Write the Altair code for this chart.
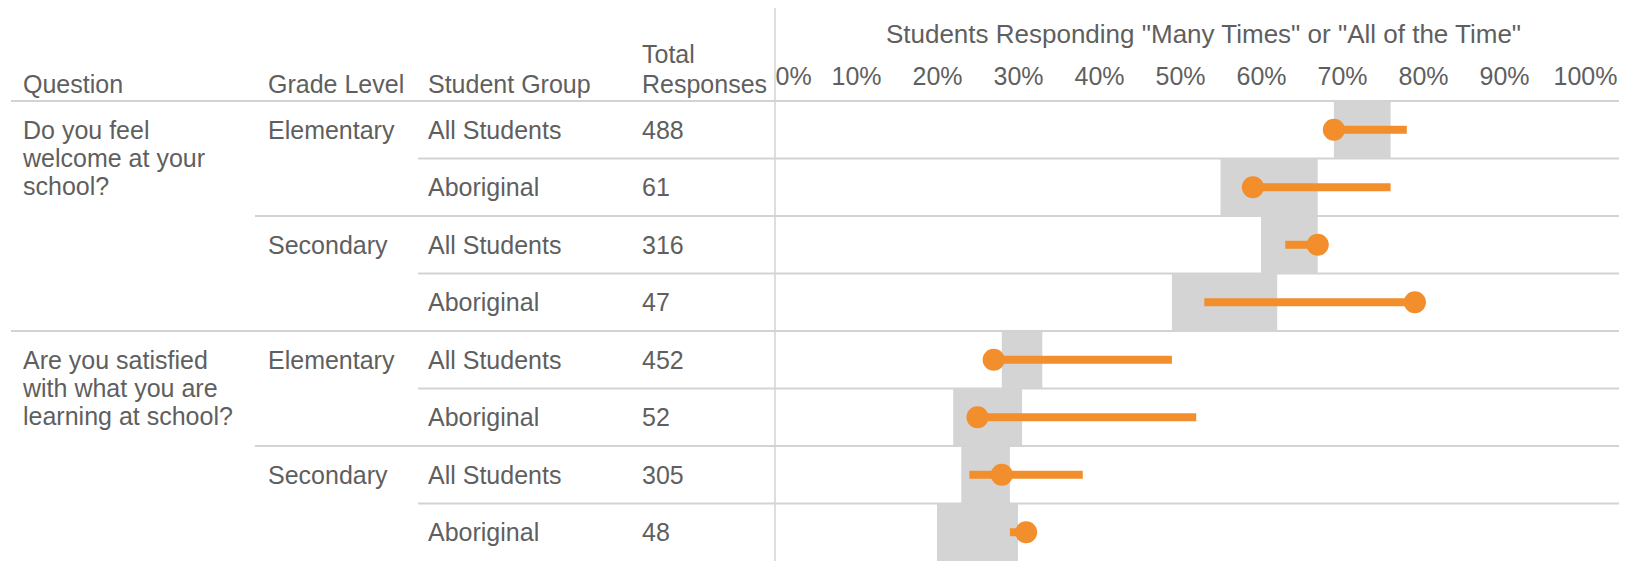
import altair as alt
import pandas as pd

# ---------------- data ----------------
questions = [
    "Do you feel\nwelcome at your\nschool?",
    "Are you satisfied\nwith what you are\nlearning at school?",
]
grade_levels = ["Elementary", "Secondary"]
student_groups = ["All Students", "Aboriginal"]
total_responses = [488, 61, 316, 47, 452, 52, 305, 48]
dot_value = [69, 59, 67, 79, 27, 25, 28, 31]
line_low = [69, 59, 63, 53, 27, 25, 24, 29]
line_high = [78, 76, 67, 79, 49, 52, 38, 31]
band_low = [69, 55, 60, 49, 28, 22, 23, 20]
band_high = [76, 67, 67, 62, 33, 30.5, 29, 30]

headers = ["Question", "Grade Level", "Student Group", "Total\nResponses"]
axis_title = 'Students Responding "Many Times" or "All of the Time"'
tick_values = [0, 10, 20, 30, 40, 50, 60, 70, 80, 90, 100]

# ---------------- tables ----------------
records = []
r = 0
for qi, q in enumerate(questions):
    for gi, g in enumerate(grade_levels):
        for si, s in enumerate(student_groups):
            records.append(dict(
                r=r, r1=r + 1, yc=r + 0.5,
                question=q, grade=g, group=s,
                total=str(total_responses[r]),
                dot=dot_value[r], lo=line_low[r], hi=line_high[r],
                blo=band_low[r], bhi=band_high[r],
                first_q=(gi == 0 and si == 0), first_g=(si == 0),
            ))
            r += 1
rows = pd.DataFrame(records)
n_rows = len(rows)

q_rows = rows[rows.first_q]
g_rows = rows[rows.first_g]
q_bounds = pd.DataFrame({"b": [0] + [int(v) for v in q_rows.r if v > 0]})
g_bounds = pd.DataFrame({"b": [int(v) for v in g_rows.r if v > 0 and v not in set(q_rows.r)]})
s_bounds = pd.DataFrame({"b": [int(v) for v in rows.r if v > 0 and v not in set(g_rows.r)]})

# ---------------- styling ----------------
FONT = "Liberation Sans"
TXT = "#5f5f5f"
ORANGE = "#F28E2B"
GRID = "#d3d3d3"
W, H = 1611, 460
X0 = 767
XMAX = (W - X0) / 8.1

xscale = alt.Scale(domain=[0, XMAX], range=[X0, W], nice=False, zero=False)
yscale = alt.Scale(domain=[0, n_rows], range=[0, H], nice=False, zero=False)
xaxis = alt.Axis(
    orient="top", values=tick_values, labelExpr="datum.value + '%'",
    domain=False, ticks=False, tickSize=0, grid=False, labelFlush=True,
    labelPadding=17, labelBaseline="alphabetic", labelFontSize=25,
    labelColor=TXT, labelFont=FONT, labelOverlap=False,
    title=axis_title, titleFontSize=26, titleFontWeight="normal",
    titleColor=TXT, titleFont=FONT, titleX=1195, titleY=-67,
    titleBaseline="middle", titleAlign="center",
)


def X(field):
    return alt.X(field, type="quantitative", scale=xscale, axis=xaxis)


def Y(field):
    return alt.Y(field, type="quantitative", scale=yscale, axis=None)


base = alt.Chart(rows)

bands = base.mark_rect(color="#d4d4d4").encode(
    x=X("blo"), x2="bhi", y=Y("r"), y2="r1")

vline = alt.Chart(pd.DataFrame({"v": [0]})).mark_rule(color=GRID, strokeWidth=1.5).encode(
    x=alt.X("v", type="quantitative", scale=xscale, axis=xaxis),
    y=alt.value(-93), y2=alt.value(H))

def sep(df, x_start):
    return alt.Chart(df).mark_rule(color=GRID, strokeWidth=2).encode(
        y=Y("b"), x=alt.value(x_start), x2=alt.value(W))

seps = [sep(q_bounds, 3), sep(g_bounds, 247), sep(s_bounds, 410)]

lines = base.mark_rule(color=ORANGE, strokeWidth=8).encode(
    x=X("lo"), x2="hi", y=Y("yc"))

dots = base.mark_circle(color=ORANGE, opacity=1, size=490).encode(
    x=X("dot"), y=Y("yc"))

def txt(df, field, x_px):
    return alt.Chart(df).mark_text(
        align="left", baseline="alphabetic", dy=9, font=FONT, fontSize=25,
        color=TXT, lineBreak="\n", lineHeight=28,
    ).encode(x=alt.value(x_px), y=Y("yc"), text=alt.Text(field, type="nominal"))

texts = [
    txt(q_rows, "question", 15),
    txt(g_rows, "grade", 260),
    txt(rows, "group", 420),
    txt(rows, "total", 634),
]

header_x = [15, 260, 420, 634]
header_y = [-8, -8, -8, -38]
header_layers = []
for h, hx, hy in zip(headers, header_x, header_y):
    header_layers.append(
        alt.Chart(pd.DataFrame({"t": [h]})).mark_text(
            align="left", baseline="alphabetic", font=FONT, fontSize=25,
            color=TXT, lineBreak="\n", lineHeight=30,
        ).encode(x=alt.value(hx), y=alt.value(hy), text="t:N")
    )

chart = alt.layer(
    bands, vline, *seps, lines, dots, *texts, *header_layers
).properties(
    width=W, height=H,
    autosize=alt.AutoSizeParams(type="none"),
    padding={"left": 0, "top": 93, "right": 0, "bottom": 0},
).configure_view(stroke=None)

chart.save("out.html", embed_options={"renderer": "svg", "actions": False})
